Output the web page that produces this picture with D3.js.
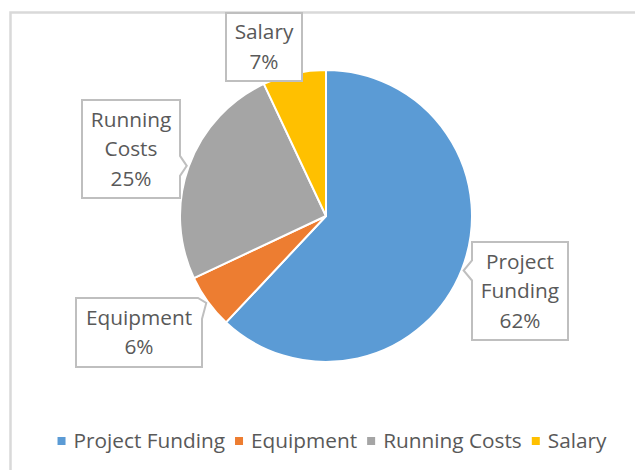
<!DOCTYPE html>
<html>
<head>
<meta charset="utf-8">
<script src="https://cdn.jsdelivr.net/npm/d3@7"></script>
<style>
  html, body { margin: 0; padding: 0; background: #fff; }
  svg { display: block; }
  text { font-family: "Open Sans", "Noto Sans", sans-serif; fill: #595959; }
</style>
</head>
<body>
<svg id="chart" width="635" height="470"></svg>
<script>
// ---- data ----
const categories = ["Project Funding", "Equipment", "Running Costs", "Salary"];
const values = [62, 6, 25, 7];
const colors = ["#5b9bd5", "#ed7d31", "#a5a5a5", "#ffc000"];
// label lines shown in callouts
const labelLines = [["Project", "Funding"], ["Equipment"], ["Running", "Costs"], ["Salary"]];

// ---- layout ----
const W = 635, H = 470;
const cx = 326, cy = 216, R = 146;
const fontSize = 20.8;
const lineH = 29.5;
// callout boxes: [x, y, w, h]
const boxes = [
  [472, 242, 96, 98],
  [76, 298, 126, 69],
  [82, 100, 98, 98],
  [226, 13, 76, 68]
];

const svg = d3.select("#chart");

// frame
svg.append("rect")
  .attr("x", 10.5).attr("y", 12.5)
  .attr("width", W + 20).attr("height", H + 20)
  .attr("fill", "#fff")
  .attr("stroke", "#d9d9d9").attr("stroke-width", 2.5);

const pie = d3.pie().sort(null).value(d => d)(values);
const arc = d3.arc().innerRadius(0).outerRadius(R);

const g = svg.append("g").attr("transform", `translate(${cx},${cy})`);
g.selectAll("path.slice")
  .data(pie)
  .join("path")
  .attr("class", "slice")
  .attr("d", arc)
  .attr("fill", (d, i) => colors[i])
  .attr("stroke", "#fff")
  .attr("stroke-width", 2)
  .attr("stroke-linejoin", "round");

// callouts
const total = d3.sum(values);
function calloutPath(b, tx, ty) {
  const [x, y, w, h] = b;
  const inside = tx >= x && tx <= x + w && ty >= y && ty <= y + h;
  const hw = 10;
  if (inside || (ty >= y + h && tx >= x && tx <= x + w)) {
    return `M${x},${y}H${x + w}V${y + h}H${x}Z`;
  }
  if (tx > x + w) {
    const c = Math.max(y, Math.min(y + h, ty));
    const b1 = Math.max(y, c - hw), b2 = Math.min(y + h, c + hw);
    if (b1 === y) {
      return `M${x},${y}H${x + w - 4}L${tx},${ty}L${x + w},${b2 + 6}V${y + h}H${x}Z`;
    }
    return `M${x},${y}H${x + w}V${b1}L${tx},${ty}L${x + w},${b2}V${y + h}H${x}Z`;
  }
  if (tx < x) {
    const c = Math.max(y, Math.min(y + h, ty));
    const b1 = Math.max(y, c - hw), b2 = Math.min(y + h, c + hw);
    return `M${x},${y}H${x + w}V${y + h}H${x}V${b2}L${tx},${ty}L${x},${b1}Z`;
  }
  return `M${x},${y}H${x + w}V${y + h}H${x}Z`;
}

const callouts = svg.append("g");
pie.forEach((d, i) => {
  const mid = (d.startAngle + d.endAngle) / 2;
  const tr = 148;
  const tx = cx + tr * Math.sin(mid);
  const ty = cy - tr * Math.cos(mid);
  const b = boxes[i];
  callouts.append("path")
    .attr("d", calloutPath(b, tx, ty))
    .attr("fill", "#fff")
    .attr("stroke", "#bfbfbf")
    .attr("stroke-width", 2)
    .attr("stroke-linejoin", "miter");
  const lines = labelLines[i].concat([Math.round(values[i] / total * 100) + "%"]);
  const bcx = b[0] + b[2] / 2, bcy = b[1] + b[3] / 2;
  const first = bcy - (lines.length - 1) * lineH / 2;
  const t = callouts.append("text")
    .attr("text-anchor", "middle")
    .style("font-size", fontSize + "px");
  lines.forEach((ln, k) => {
    t.append("tspan").attr("x", bcx).attr("y", first + k * lineH + 7).text(ln);
  });
});

// legend
const legendY = 441;
const lg = svg.append("g");
let xpos = 0;
categories.forEach((c, i) => {
  const it = lg.append("g");
  it.append("rect").attr("x", xpos).attr("y", legendY - 4).attr("width", 8).attr("height", 8).attr("fill", colors[i]);
  const tt = it.append("text").attr("x", xpos + 16).attr("y", legendY + 7)
    .style("font-size", fontSize + "px").text(c);
  xpos += 16 + tt.node().getComputedTextLength() + 10;
});
const legW = xpos - 10;
lg.attr("transform", `translate(${(55 + 609) / 2 - legW / 2},0)`);
</script>
</body>
</html>
